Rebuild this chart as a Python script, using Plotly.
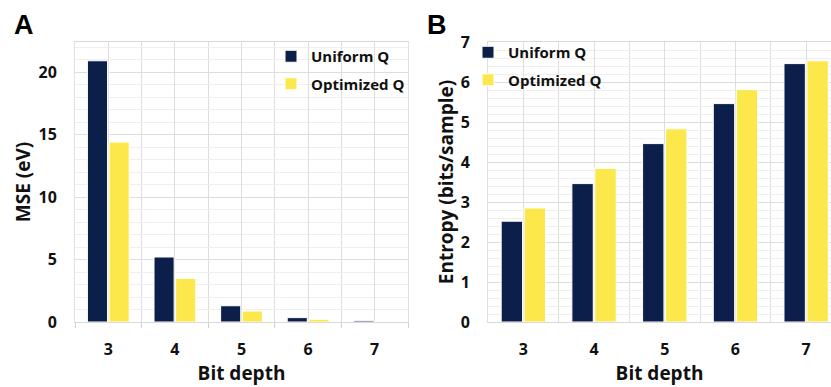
import plotly.graph_objects as go

# Quantizer comparison across bit depths
bit_depths = [3, 4, 5, 6, 7]
mse_uniform = [20.9, 5.2, 1.3, 0.35, 0.1]
mse_optimized = [14.4, 3.5, 0.88, 0.22, 0.05]
entropy_uniform = [2.52, 3.46, 4.46, 5.46, 6.46]
entropy_optimized = [2.85, 3.84, 4.83, 5.81, 6.53]

NAVY = "#0c1f4b"
YELLOW = "#fde84c"
FONT = "Open Sans"
TXT = "#111111"

W, H = 831, 387

def px_x(p):
    return p / W

def px_y(p):
    return 1 - p / H

fig = go.Figure()

bar_style = dict(marker_line_color="white", marker_line_width=1)

fig.add_trace(go.Bar(x=bit_depths, y=mse_uniform, name="Uniform Q",
                     marker_color=NAVY, xaxis="x", yaxis="y",
                     legend="legend", legendgroup="a1", **bar_style))
fig.add_trace(go.Bar(x=bit_depths, y=mse_optimized, name="Optimized Q",
                     marker_color=YELLOW, xaxis="x", yaxis="y",
                     legend="legend", legendgroup="a2", **bar_style))
fig.add_trace(go.Bar(x=bit_depths, y=entropy_uniform, name="Uniform Q",
                     marker_color=NAVY, xaxis="x2", yaxis="y2",
                     legend="legend2", legendgroup="b1", **bar_style))
fig.add_trace(go.Bar(x=bit_depths, y=entropy_optimized, name="Optimized Q",
                     marker_color=YELLOW, xaxis="x2", yaxis="y2",
                     legend="legend2", legendgroup="b2", **bar_style))

top_px, bottom_px = 42, 322
ydom = [px_y(bottom_px), px_y(top_px)]

tick_font = dict(family=FONT, size=16, color=TXT, weight="bold")
title_font = dict(family=FONT, size=19, color=TXT, weight="bold")
legend_font = dict(family=FONT, size=15, color=TXT, weight="bold")

grid_major = "#dedede"
grid_minor = "#efefef"

def xaxis_cfg(domain, rng, anchor, ticks_out):
    return dict(
        domain=domain, range=rng, anchor=anchor, automargin=False,
        tickmode="array", tickvals=bit_depths, ticktext=[str(b) for b in bit_depths],
        ticks="", showgrid=True, gridcolor=grid_major, gridwidth=1,
        minor=dict(tick0=2.5, dtick=1, showgrid=True, gridcolor=grid_major,
                   ticks="outside" if ticks_out else "", ticklen=5,
                   tickcolor="#d0d0d0"),
        showline=True, linecolor="#d9d9d9", linewidth=1, mirror=True,
        zeroline=False, tickfont=tick_font, ticklabelstandoff=13,
        title=dict(text="Bit depth", font=title_font, standoff=4),
        fixedrange=True,
    )

def yaxis_cfg(rng, dtick, minor_dtick, anchor, title, standoff):
    return dict(
        domain=ydom, range=rng, anchor=anchor, dtick=dtick, tick0=0,
        automargin=False,
        showgrid=True, gridcolor=grid_major, gridwidth=1,
        minor=dict(dtick=minor_dtick, tick0=0, showgrid=True, gridcolor=grid_minor),
        showline=True, linecolor="#e0e0e0", linewidth=1, mirror=True,
        zeroline=False, ticks="", tickfont=tick_font, ticklabelstandoff=14,
        title=dict(text=title, font=title_font, standoff=standoff),
        fixedrange=True,
    )

# Panel A: category width ~66.6 px
fig.update_layout(
    xaxis=xaxis_cfg([px_x(75), px_x(408)], [2.5, 7.5], "y", True),
    yaxis=yaxis_cfg([0, 22.4], 5, 1, "x", "MSE (eV)", 2),
    # Panel B: continues past the right edge of the canvas
    xaxis2=xaxis_cfg([px_x(488), 1.0], [2.5, 2.5 + (W - 488) / 70.7], "y2", False),
    yaxis2=yaxis_cfg([0, 7], 1, 0.2, "x2", "Entropy (bits/sample)", 1),
)

fig.update_layout(
    width=W, height=H,
    margin=dict(l=0, r=0, t=0, b=0, autoexpand=False),
    paper_bgcolor="white", plot_bgcolor="white",
    barmode="group", bargap=0.35, bargroupgap=0.07,
    font=dict(family=FONT, color=TXT),
    legend=dict(x=px_x(271), y=px_y(40), xanchor="left", yanchor="top",
                font=legend_font, bgcolor="rgba(0,0,0,0)",
                tracegroupgap=5, itemwidth=30),
    legend2=dict(x=px_x(468), y=px_y(36), xanchor="left", yanchor="top",
                 font=legend_font, bgcolor="rgba(0,0,0,0)",
                 tracegroupgap=5, itemwidth=30),
    annotations=[
        dict(text="A", x=px_x(12), y=px_y(8), xref="paper", yref="paper",
             xanchor="left", yanchor="top", showarrow=False,
             font=dict(family="Liberation Sans", size=27, color="black", weight="bold")),
        dict(text="B", x=px_x(425), y=px_y(8), xref="paper", yref="paper",
             xanchor="left", yanchor="top", showarrow=False,
             font=dict(family="Liberation Sans", size=27, color="black", weight="bold")),
    ],
)

fig.write_html("out.html")
